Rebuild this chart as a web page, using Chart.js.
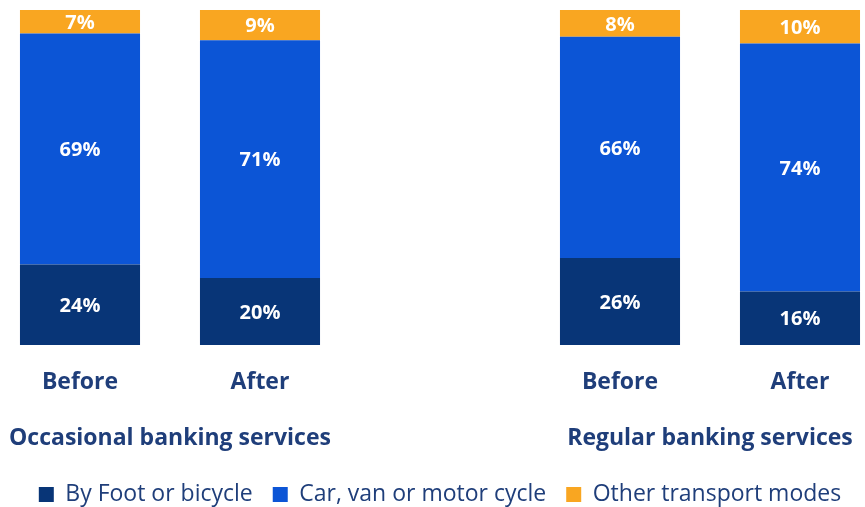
<!DOCTYPE html>
<html lang="en">
<head>
<meta charset="UTF-8" />
<title>Travel mode before and after</title>
<script src="https://cdn.jsdelivr.net/npm/chart.js"></script>
<style>
  html, body { margin: 0; padding: 0; background: #fff; overflow: hidden; }
  #wrap { position: relative; left: -10px; width: 900px; height: 507px; }
</style>
</head>
<body>
<div id="wrap"><canvas id="chart"></canvas></div>
<script>
// categories (empty slot separates the two groups)
const periods = ['Before', 'After', '', 'Before', 'After'];
const groups = ['Occasional banking services', 'Regular banking services'];

// percentages per mode
const footBike = [24, 20, null, 26, 16];
const carVan   = [69, 71, null, 66, 74];
const other    = [7, 9, null, 8, 10];

const navy = '#083577';
const blue = '#0C55D6';
const orange = '#F9A621';
const textCol = '#1F3E7A';
const fontFam = '"Open Sans", sans-serif';

// white % labels inside each segment
const valueLabels = {
  id: 'valueLabels',
  afterDatasetsDraw(chart) {
    const ctx = chart.ctx;
    ctx.save();
    ctx.fillStyle = '#fff';
    ctx.font = 'bold 20px ' + fontFam;
    ctx.textAlign = 'center';
    ctx.textBaseline = 'middle';
    chart.data.datasets.forEach((ds, i) => {
      chart.getDatasetMeta(i).data.forEach((bar, j) => {
        const v = ds.data[j];
        if (v == null) return;
        ctx.fillText(v + '%', bar.x, (bar.y + bar.base) / 2 + 1.5);
      });
    });
    ctx.restore();
  }
};

// group captions centred under each pair of bars
const groupLabels = {
  id: 'groupLabels',
  afterDraw(chart) {
    const x = chart.scales.x;
    const ctx = chart.ctx;
    ctx.save();
    ctx.fillStyle = textCol;
    ctx.font = 'bold 23px ' + fontFam;
    ctx.textAlign = 'center';
    ctx.textBaseline = 'middle';
    const pairs = [[0, 1], [3, 4]];
    pairs.forEach((p, k) => {
      const cx = (x.getPixelForValue(p[0]) + x.getPixelForValue(p[1])) / 2;
      ctx.fillText(groups[k], cx, x.top + 93);
    });
    ctx.restore();
  }
};

new Chart(document.getElementById('chart'), {
  type: 'bar',
  data: {
    labels: periods,
    datasets: [
      { label: 'By Foot or bicycle', data: footBike, backgroundColor: navy },
      { label: 'Car, van or motor cycle', data: carVan, backgroundColor: blue },
      { label: 'Other transport modes', data: other, backgroundColor: orange }
    ]
  },
  options: {
    responsive: true,
    maintainAspectRatio: false,
    animation: false,
    layout: { padding: { top: 10, left: 0, right: 0, bottom: -9 } },
    categoryPercentage: 1,
    barPercentage: 0.667,
    plugins: {
      tooltip: { enabled: false },
      legend: {
        position: 'bottom',
        labels: {
          boxWidth: 15, boxHeight: 15, padding: 20,
          color: textCol,
          font: { family: fontFam, size: 23 }
        }
      }
    },
    scales: {
      x: {
        stacked: true,
        grid: { display: false },
        border: { display: false },
        ticks: { color: textCol, font: { family: fontFam, size: 23, weight: 'bold' }, padding: 16 },
        afterFit(s) { s.height = 118; }
      },
      y: {
        stacked: true,
        display: false,
        min: 0, max: 100
      }
    }
  },
  plugins: [valueLabels, groupLabels]
});
</script>
</body>
</html>
